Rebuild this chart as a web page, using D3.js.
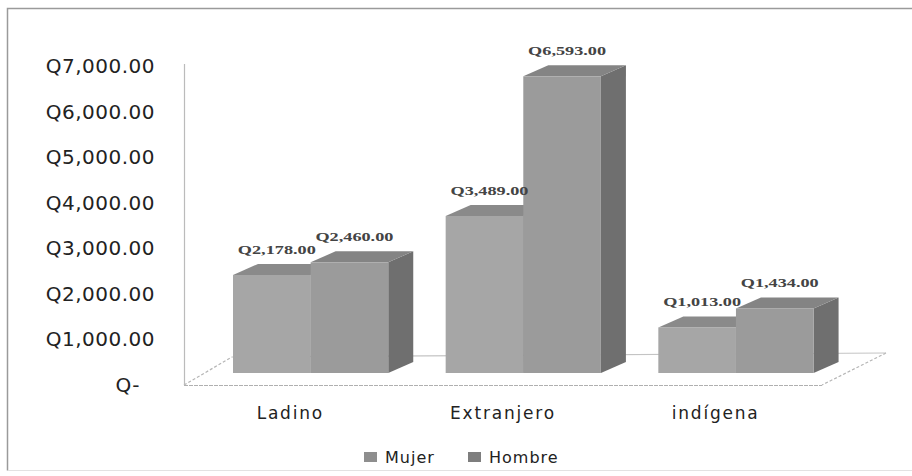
<!DOCTYPE html>
<html><head><meta charset="utf-8">
<script src="https://cdn.jsdelivr.net/npm/d3@7"></script>
<style>body{margin:0;background:#fff}svg{display:block}</style>
</head><body>
<svg id="c" width="912" height="476"></svg>
<script>
const categories = ["Ladino", "Extranjero", "indígena"];
const seriesNames = ["Mujer", "Hombre"];
const mujer = [2178, 3489, 1013];
const hombre = [2460, 6593, 1434];
const tickValues = [0, 1000, 2000, 3000, 4000, 5000, 6000, 7000];
const tickLabels = ["Q-", "Q1,000.00", "Q2,000.00", "Q3,000.00", "Q4,000.00", "Q5,000.00", "Q6,000.00", "Q7,000.00"];
const valueLabels = [["Q2,178.00", "Q3,489.00", "Q1,013.00"], ["Q2,460.00", "Q6,593.00", "Q1,434.00"]];

const svg = d3.select("#c");
const frontColors = ["#a6a6a6", "#9b9b9b"];
const sideColors = ["#7a7a7a", "#6f6f6f"];
const topColors = ["#8a8a8a", "#848484"];
const legendColors = ["#8e8e8e", "#7e7e7e"];

// outer border
svg.append("path").attr("d", "M7.5,470.5 L7.5,8.5 L912,8.5").attr("fill", "none").attr("stroke", "#9a9a9a").attr("stroke-width", 1.5);
svg.append("line").attr("x1", 8).attr("x2", 912).attr("y1", 470.5).attr("y2", 470.5).attr("stroke", "#e2e2e2");

// scales
const x = d3.scaleBand().domain(categories).range([184, 822]);
const yAxis = d3.scaleLinear().domain([0, 7000]).range([385, 66.5]);
const yBar = d3.scaleLinear().domain([0, 7000]).range([373, 58]);
const DX = 25, DY = -11;

// floor
const floorG = svg.append("g");
floorG.append("path").attr("d", "M184,385 L232,357").attr("fill", "none").attr("stroke", "#b5b5b5").attr("stroke-width", 1.2).attr("stroke-dasharray", "3,2");
floorG.append("path").attr("d", "M886,353 L822,385").attr("fill", "none").attr("stroke", "#b5b5b5").attr("stroke-width", 1.2).attr("stroke-dasharray", "3,2");
floorG.append("path").attr("d", "M232,357 L886,353").attr("fill", "none").attr("stroke", "#c4c4c4").attr("stroke-width", 1.2);
floorG.append("line").attr("x1", 184).attr("x2", 822).attr("y1", 385.5).attr("y2", 385.5)
  .attr("stroke", "#b0b0b0").attr("stroke-width", 1.2).attr("stroke-dasharray", "4,1");

// value axis
svg.append("line").attr("x1", 184.5).attr("x2", 184.5).attr("y1", 64).attr("y2", 385).attr("stroke", "#bbbbbb").attr("stroke-width", 1.2);
const axisG = svg.append("g").attr("transform", "translate(155,0)")
  .call(d3.axisLeft(yAxis).tickValues(tickValues).tickSize(0).tickPadding(0)
    .tickFormat((d, i) => tickLabels[i]));
axisG.select(".domain").remove();
axisG.selectAll("text").attr("font-family", "DejaVu Sans").attr("font-size", 20).attr("fill", "#222")
  .attr("letter-spacing", 0.5).attr("dx", d => d === 0 ? -15 : 0);

// bars
const bw = x.bandwidth() * 0.365;
const off = 49;
const data = [mujer, hombre];
const barsG = svg.append("g");
categories.forEach((c, ci) => {
  data.forEach((vals, si) => {
    const v = vals[ci];
    const x0 = x(c) + off + si * bw, x1 = x0 + bw;
    const yt = yBar(v), yb = yBar(0);
    const g = barsG.append("g");
    g.append("path").attr("d", `M${x1},${yt} L${x1 + DX},${yt + DY} L${x1 + DX},${yb + DY} L${x1},${yb} Z`).attr("fill", sideColors[si]);
    g.append("path").attr("d", `M${x0},${yt} L${x0 + DX},${yt + DY} L${x1 + DX},${yt + DY} L${x1},${yt} Z`).attr("fill", topColors[si]);
    g.append("rect").attr("x", x0).attr("y", yt).attr("width", bw).attr("height", yb - yt).attr("fill", frontColors[si]);
  });
});

// value labels
categories.forEach((c, ci) => {
  data.forEach((vals, si) => {
    const v = vals[ci];
    const x0 = x(c) + off + si * bw;
    const t = svg.append("text").attr("x", x0 + bw / 2 + 5).attr("y", yBar(v) + DY - 10)
      .attr("text-anchor", "middle").attr("font-family", "Liberation Serif").attr("font-weight", "bold")
      .attr("font-size", 13.5).attr("fill", "#444").text(valueLabels[si][ci]);
    const w = t.node().getComputedTextLength();
    t.attr("textLength", w * 1.35).attr("lengthAdjust", "spacingAndGlyphs");
  });
});

// category labels
categories.forEach(c => {
  svg.append("text").attr("x", x(c) + x.bandwidth() / 2).attr("y", 419)
    .attr("text-anchor", "middle").attr("font-family", "DejaVu Sans").attr("font-size", 17)
    .attr("fill", "#222").attr("letter-spacing", 1.8).text(c);
});

// legend
const legendX = [364, 468];
seriesNames.forEach((s, i) => {
  svg.append("rect").attr("x", legendX[i]).attr("y", 452).attr("width", 13).attr("height", 10).attr("fill", legendColors[i]);
  svg.append("text").attr("x", legendX[i] + 21).attr("y", 463).attr("font-family", "DejaVu Sans")
    .attr("font-size", 16).attr("fill", "#222").attr("letter-spacing", 1).text(s);
});
</script>
</body></html>
